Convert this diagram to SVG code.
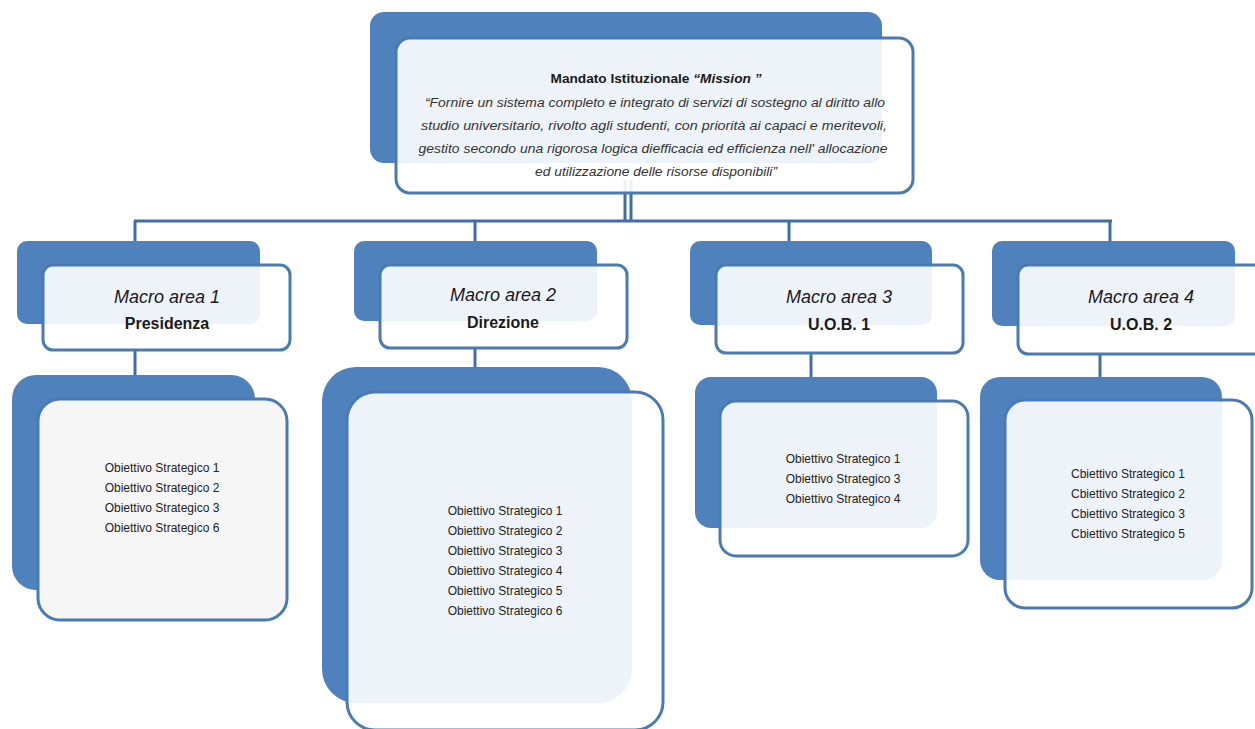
<svg xmlns="http://www.w3.org/2000/svg" width="1255" height="729" viewBox="0 0 1255 729">
<style>
.back{fill:#4f81bd}
.front{fill:#ffffff;fill-opacity:0.9;stroke:#4a7ab5;stroke-width:3}
.conn{stroke:#3f6ea8;stroke-width:3;fill:none}
.t{font-family:"Liberation Sans",Arial,sans-serif;fill:#1a1a1a;text-anchor:middle}
.mi{font-size:18px;font-style:italic}
.mb{font-size:16px;font-weight:bold}
.ob{font-size:12px;fill:#222}
.ti{font-size:12.5px;font-style:italic;fill:#333}
</style>
<rect width="1255" height="729" fill="#ffffff"/>
<g id="connectors">
<line class="conn" x1="625" y1="180" x2="625" y2="222"/>
<line class="conn" x1="631" y1="180" x2="631" y2="222"/>
<line class="conn" x1="134" y1="221" x2="1112" y2="221"/>
<line class="conn" x1="135" y1="221" x2="135" y2="242"/>
<line class="conn" x1="475" y1="221" x2="475" y2="242"/>
<line class="conn" x1="789" y1="221" x2="789" y2="242"/>
<line class="conn" x1="1110" y1="221" x2="1110" y2="242"/>
<line class="conn" x1="135" y1="350" x2="135" y2="376"/>
<line class="conn" x1="475" y1="348" x2="475" y2="368"/>
<line class="conn" x1="811" y1="353" x2="811" y2="378"/>
<line class="conn" x1="1100" y1="354" x2="1100" y2="378"/>
</g>
<g id="mission">
<rect class="back" x="370" y="12" width="512" height="151" rx="14"/>
<rect class="front" x="396" y="38" width="517" height="155" rx="14"/>
<text class="t" x="656" y="83" font-size="12.5" font-weight="bold" textLength="211" lengthAdjust="spacingAndGlyphs">Mandato Istituzionale <tspan font-style="italic">“Mission ”</tspan></text>
<text class="t ti" x="655" y="107" textLength="460" lengthAdjust="spacingAndGlyphs">“Fornire un sistema completo e integrato di servizi di sostegno al diritto allo</text>
<text class="t ti" x="654" y="130" textLength="466" lengthAdjust="spacingAndGlyphs">studio universitario, rivolto agli studenti, con priorità ai capaci e meritevoli,</text>
<text class="t ti" x="653" y="153" textLength="469" lengthAdjust="spacingAndGlyphs">gestito secondo una rigorosa logica diefficacia ed efficienza nell' allocazione</text>
<text class="t ti" x="656" y="176" textLength="242" lengthAdjust="spacingAndGlyphs">ed utilizzazione delle risorse disponibili”</text>
</g>
<g id="macro1">
<rect class="back" x="17" y="241" width="243" height="83" rx="10"/>
<rect class="front" x="43" y="265" width="247" height="85" rx="10"/>
<text class="t mi" x="167" y="303">Macro area 1</text>
<text class="t mb" x="167" y="329">Presidenza</text>
</g>
<g id="macro2">
<rect class="back" x="354" y="241" width="243" height="80" rx="10"/>
<rect class="front" x="380" y="265" width="247" height="83" rx="10"/>
<text class="t mi" x="503" y="301">Macro area 2</text>
<text class="t mb" x="503" y="328">Direzione</text>
</g>
<g id="macro3">
<rect class="back" x="690" y="241" width="242" height="84" rx="10"/>
<rect class="front" x="716" y="265" width="247" height="88" rx="10"/>
<text class="t mi" x="839" y="303">Macro area 3</text>
<text class="t mb" x="839" y="330">U.O.B. 1</text>
</g>
<g id="macro4">
<rect class="back" x="992" y="241" width="243" height="85" rx="10"/>
<rect class="front" x="1018" y="265" width="247" height="89" rx="10"/>
<text class="t mi" x="1141" y="303">Macro area 4</text>
<text class="t mb" x="1141" y="330">U.O.B. 2</text>
</g>
<g id="obiettivi1">
<rect class="back" x="12" y="375" width="243" height="215" rx="24"/>
<rect x="38" y="399" width="249" height="221" rx="22" fill="#f6f6f6" stroke="#4a7ab5" stroke-width="3"/>
<text class="t ob" x="162" y="472">Obiettivo Strategico 1</text>
<text class="t ob" x="162" y="492">Obiettivo Strategico 2</text>
<text class="t ob" x="162" y="512">Obiettivo Strategico 3</text>
<text class="t ob" x="162" y="532">Obiettivo Strategico 6</text>
</g>
<g id="obiettivi2">
<rect class="back" x="322" y="367" width="310" height="336" rx="34"/>
<rect class="front" x="347" y="392" width="316" height="338" rx="28"/>
<text class="t ob" x="505" y="515">Obiettivo Strategico 1</text>
<text class="t ob" x="505" y="535">Obiettivo Strategico 2</text>
<text class="t ob" x="505" y="555">Obiettivo Strategico 3</text>
<text class="t ob" x="505" y="575">Obiettivo Strategico 4</text>
<text class="t ob" x="505" y="595">Obiettivo Strategico 5</text>
<text class="t ob" x="505" y="615">Obiettivo Strategico 6</text>
</g>
<g id="obiettivi3">
<rect class="back" x="695" y="377" width="242" height="151" rx="16"/>
<rect class="front" x="720" y="401" width="248" height="155" rx="16"/>
<text class="t ob" x="843" y="463">Obiettivo Strategico 1</text>
<text class="t ob" x="843" y="483">Obiettivo Strategico 3</text>
<text class="t ob" x="843" y="503">Obiettivo Strategico 4</text>
</g>
<g id="obiettivi4">
<rect class="back" x="980" y="377" width="242" height="203" rx="20"/>
<rect class="front" x="1005" y="400" width="247" height="208" rx="20"/>
<text class="t ob" x="1128" y="478">Cbiettivo Strategico 1</text>
<text class="t ob" x="1128" y="498">Cbiettivo Strategico 2</text>
<text class="t ob" x="1128" y="518">Cbiettivo Strategico 3</text>
<text class="t ob" x="1128" y="538">Cbiettivo Strategico 5</text>
</g>
</svg>
